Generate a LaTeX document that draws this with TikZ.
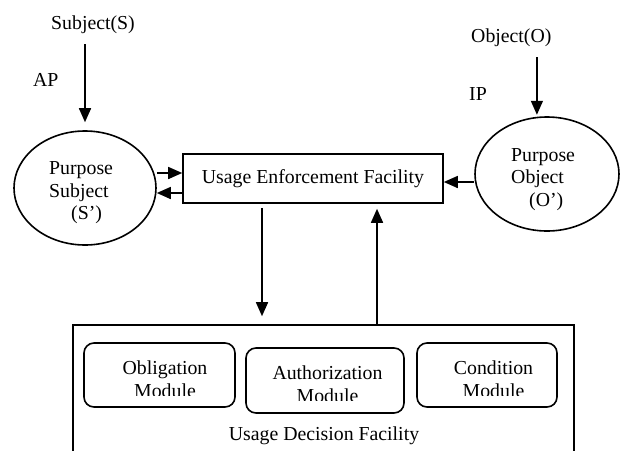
\documentclass[tikz,border=0pt]{standalone}
\usepackage{fontspec}
\setmainfont{Liberation Serif}
\usetikzlibrary{arrows.meta,shapes.geometric}
\begin{document}
\begin{tikzpicture}[x=1pt,y=-1pt,
  txt/.style={inner sep=0pt, font=\fontsize{19.8}{23.5}\selectfont},
  arr/.style={line width=1.6pt,-{Triangle[length=14pt,width=12pt]}},
  box/.style={draw,line width=1.6pt,inner sep=0pt},
  modbox/.style={box,rounded corners=10pt},
  ell/.style={draw,line width=1.6pt,ellipse,inner sep=0pt}]
\useasboundingbox (0,0) rectangle (620,450);
\clip (0,0) rectangle (620,450);
% shapes
\node[ell,minimum width=142pt,minimum height=114pt] (ellL) at (85,188) {};
\node[ell,minimum width=144pt,minimum height=114pt] (ellR) at (547,174) {};
\node[box,txt,minimum width=260pt,minimum height=49pt] (uef) at (313,178.5) {Usage Enforcement Facility};
\node[box,minimum width=501pt,minimum height=160pt] (udf) at (323.5,405) {};
\node[modbox,minimum width=151pt,minimum height=64pt] (obl) at (159.5,375) {};
\node[modbox,minimum width=158pt,minimum height=65pt] (aut) at (325,380.5) {};
\node[modbox,minimum width=140pt,minimum height=64pt] (cnd) at (487,375) {};
% free texts
\node[txt,anchor=base west] (subj) at (51,29) {Subject(S)};
\node[txt,anchor=base west] (ap) at (33,86) {AP};
\node[txt,anchor=base west] (obj) at (471,42) {Object(O)};
\node[txt,anchor=base west] (ip) at (469,100) {IP};
\node[txt,anchor=base west] (pl1) at (49,174) {Purpose};
\node[txt,anchor=base west] (pl2) at (49,197) {Subject};
\node[txt,anchor=base west] (pl3) at (71,219) {(S’)};
\node[txt,anchor=base west] (pr1) at (511,161) {Purpose};
\node[txt,anchor=base west] (pr2) at (511,183) {Object};
\node[txt,anchor=base west] (pr3) at (529,206) {(O’)};
\node[txt,anchor=base] (udfl) at (324,440) {Usage Decision Facility};
% module texts (clipped as in the reference)
\begin{scope}
\clip (84,343) rectangle (235,395);
\node[txt,anchor=base] (obl1) at (165,374) {Obligation};
\node[txt,anchor=base] (obl2) at (165,397) {Module};
\end{scope}
\begin{scope}
\clip (246,348) rectangle (404,400);
\node[txt,anchor=base] (aut1) at (327.5,379) {Authorization};
\node[txt,anchor=base] (aut2) at (327.5,402) {Module};
\end{scope}
\begin{scope}
\clip (417,343) rectangle (557,395);
\node[txt,anchor=base] (cnd1) at (493.5,374) {Condition};
\node[txt,anchor=base] (cnd2) at (493.5,397) {Module};
\end{scope}
% connectors
\draw[arr,shorten <=11pt,shorten >=8pt] (ellL.north |- subj.south) -- (ellL.north);
\draw[arr,shorten <=11pt,shorten >=2pt] (ellR.100 |- obj.south) -- (ellR.100);
\draw[arr] (ellL.east |- 0,173) -- (uef.west |- 0,173);
\draw[arr] (uef.west |- 0,193) -- (ellL.east |- 0,193);
\draw[arr] (ellR.west |- 0,182) -- (uef.east |- 0,182);
\draw[arr,shorten <=4pt,shorten >=8pt] (uef.south -| 262,0) -- (udf.north -| 262,0);
\draw[arr,shorten >=5pt] (udf.north -| 377,0) -- (uef.south -| 377,0);
\end{tikzpicture}
\end{document}
